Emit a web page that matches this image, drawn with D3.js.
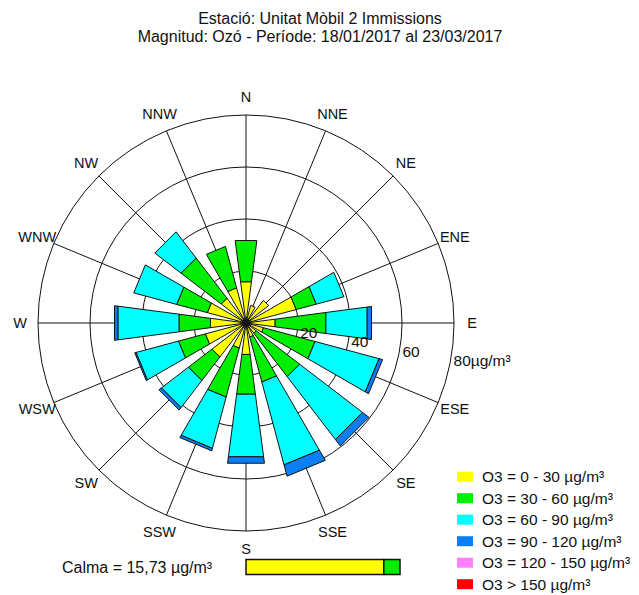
<!DOCTYPE html>
<html>
<head>
<meta charset="utf-8">
<script src="https://cdn.jsdelivr.net/npm/d3@7"></script>
<style>
  body { margin: 0; background: #fff; }
  text { font-family: "Liberation Sans", Arial, sans-serif; fill: #111; }
</style>
</head>
<body>
<div id="chart"></div>
<script>
// wind directions, clockwise from north
var directions = ["N", "NNE", "NE", "ENE", "E", "ESE", "SE", "SSE",
                  "S", "SSW", "SW", "WSW", "W", "WNW", "NW", "NNW"];

// concentration classes
var classes = ["O3 = 0 - 30 µg/m³", "O3 = 30 - 60 µg/m³", "O3 = 60 - 90 µg/m³",
               "O3 = 90 - 120 µg/m³", "O3 = 120 - 150 µg/m³", "O3 > 150 µg/m³"];
var classColors = ["#ffff00", "#00ee00", "#00ffff", "#0a7ff5", "#ff80ff", "#ff0000"];

// segment length of each class per direction (µg/m³)
var c0_30    = [16, 7, 11, 20, 11.3, 7, 5, 5.6, 12.2, 10, 16.5, 16.2, 13.8, 15.4, 12, 14];
var c30_60   = [16, 0, 0, 8, 19.7, 20.5, 21, 17.9, 15.4, 19.5, 11.4, 10.7, 12.2, 12.2, 19.5, 16.5];
var c60_90   = [0, 0, 0, 11, 16, 25.5, 30.5, 33, 24.3, 20.4, 13.1, 16.9, 23.7, 17.1, 12.7, 0];
var c90_120  = [0, 0, 0, 0, 1.7, 1.4, 3.1, 4.5, 2.5, 1, 1.2, 0.5, 1.3, 0, 0, 0];
var c120_150 = [0, 0, 0, 0, 0, 0, 0, 0, 0, 0, 0, 0, 0, 0, 0, 0];
var c150     = [0, 0, 0, 0, 0, 0, 0, 0, 0, 0, 0, 0, 0, 0, 0, 0];

// radial ticks
var ringTicks = [20, 40, 60, 80];
var ringLabels = ["20", "40", "60", "80µg/m³"];

// calm share per class (%)
var calmaPct = [89.5, 10.5, 0, 0, 0, 0];
var calmaText = "Calma = 15,73 µg/m³";

var titleLines = ["Estació: Unitat Mòbil 2 Immissions",
                  "Magnitud: Ozó - Període: 18/01/2017 al 23/03/2017"];

var width = 639, height = 595;
var cx = 246, cy = 323, R = 208;

var svg = d3.select("#chart").append("svg")
  .attr("width", width)
  .attr("height", height);

// title
svg.selectAll(".title")
  .data(titleLines)
  .enter().append("text")
  .attr("class", "title")
  .attr("x", 320)
  .attr("y", function(d, i) { return 24 + i * 17.7; })
  .attr("text-anchor", "middle")
  .style("font-size", "16px")
  .text(function(d) { return d; });

var r = d3.scaleLinear().domain([0, 80]).range([0, R]);
function ang(d) { return directions.indexOf(d) * 2 * Math.PI / directions.length; }

var g = svg.append("g").attr("transform", "translate(" + cx + "," + cy + ")");

// grid
g.selectAll(".ring")
  .data(ringTicks)
  .enter().append("circle")
  .attr("r", function(d) { return r(d); })
  .attr("fill", "none")
  .attr("stroke", "#111")
  .attr("stroke-width", 1);

g.selectAll(".spoke")
  .data(directions)
  .enter().append("line")
  .attr("x1", 0).attr("y1", 0)
  .attr("x2", function(d) { return R * Math.sin(ang(d)); })
  .attr("y2", function(d) { return -R * Math.cos(ang(d)); })
  .attr("stroke", "#111")
  .attr("stroke-width", 1);

// stacked wedges
var table = directions.map(function(d, i) {
  return { dir: d, c0: c0_30[i], c1: c30_60[i], c2: c60_90[i],
           c3: c90_120[i], c4: c120_150[i], c5: c150[i] };
});
var keys = ["c0", "c1", "c2", "c3", "c4", "c5"];
var series = d3.stack().keys(keys)(table);

var half = 7.5 * Math.PI / 180;
function wedge(a, r0, r1) {
  var p = d3.path();
  var pts = [[r0, a - half], [r1, a - half], [r1, a + half], [r0, a + half]];
  pts.forEach(function(q, k) {
    var x = q[0] * Math.sin(q[1]), y = -q[0] * Math.cos(q[1]);
    if (k === 0) p.moveTo(x, y); else p.lineTo(x, y);
  });
  p.closePath();
  return p.toString();
}

g.selectAll(".layer")
  .data(series)
  .enter().append("g")
  .attr("class", "layer")
  .attr("fill", function(d, i) { return classColors[i]; })
  .selectAll("path")
  .data(function(d) { return d.filter(function(s) { return s[1] - s[0] > 0; }); })
  .enter().append("path")
  .attr("d", function(s) { return wedge(ang(s.data.dir), r(s[0]), r(s[1])); })
  .attr("stroke", "#111")
  .attr("stroke-width", 1)
  .attr("stroke-linejoin", "miter");

g.append("circle").attr("r", 4).attr("fill", "#111");

// direction labels
g.selectAll(".dir")
  .data(directions)
  .enter().append("text")
  .attr("x", function(d) { return 226 * Math.sin(ang(d)); })
  .attr("y", function(d) { return -226 * Math.cos(ang(d)); })
  .attr("text-anchor", "middle")
  .attr("dominant-baseline", "central")
  .style("font-size", "14.5px")
  .text(function(d) { return d; });

// ring labels
var la = 100.5 * Math.PI / 180;
g.selectAll(".rl")
  .data(ringTicks)
  .enter().append("text")
  .attr("x", function(d) { return r(d) * Math.sin(la) + 3; })
  .attr("y", function(d) { return -r(d) * Math.cos(la); })
  .attr("dominant-baseline", "central")
  .style("font-size", "15.5px")
  .text(function(d, i) { return ringLabels[i]; });

// legend
var leg = svg.append("g").attr("transform", "translate(457,476.7)");
var items = leg.selectAll(".item")
  .data(classes)
  .enter().append("g")
  .attr("transform", function(d, i) { return "translate(0," + (i * 21.5) + ")"; });
items.append("rect")
  .attr("x", 0).attr("y", -5)
  .attr("width", 16).attr("height", 10)
  .attr("fill", function(d, i) { return classColors[i]; });
items.append("text")
  .attr("x", 25).attr("y", 0)
  .attr("dominant-baseline", "central")
  .style("font-size", "15.5px")
  .text(function(d) { return d; });

// calm
svg.append("text")
  .attr("x", 62).attr("y", 573)
  .style("font-size", "16px")
  .text(calmaText);

var bx = d3.scaleLinear().domain([0, 100]).range([246, 400]);
var calmStack = [];
var acc = 0;
calmaPct.forEach(function(v, i) { calmStack.push({ x0: acc, x1: acc + v, i: i }); acc += v; });
svg.selectAll(".calm")
  .data(calmStack.filter(function(d) { return d.x1 > d.x0; }))
  .enter().append("rect")
  .attr("x", function(d) { return bx(d.x0); })
  .attr("y", 559.5)
  .attr("width", function(d) { return bx(d.x1) - bx(d.x0); })
  .attr("height", 15)
  .attr("fill", function(d) { return classColors[d.i]; })
  .attr("stroke", "#111")
  .attr("stroke-width", 1.5);
</script>
</body>
</html>
